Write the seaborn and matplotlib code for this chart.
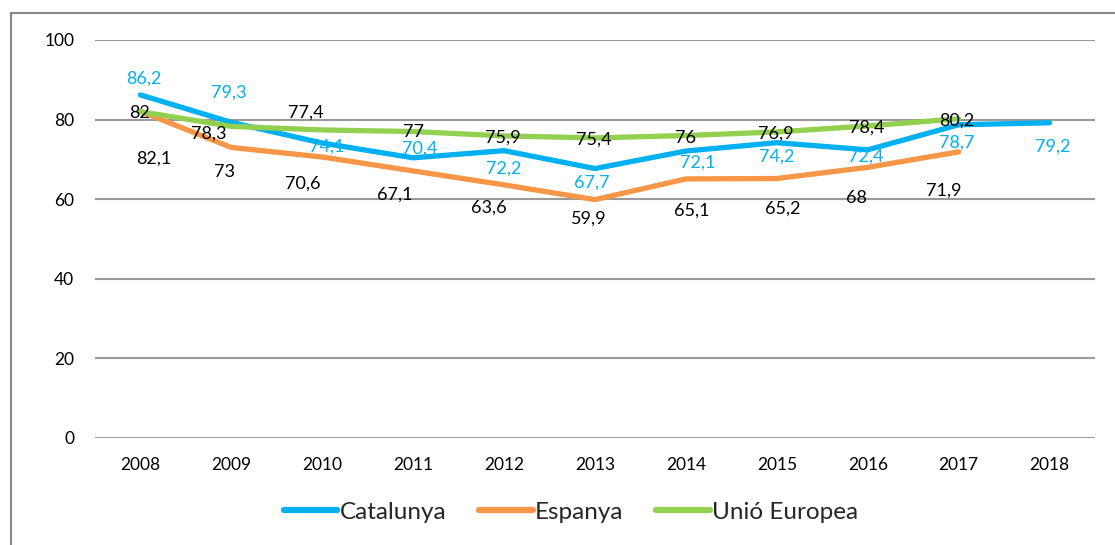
"""
Line chart - Catalunya / Espanya / Unió Europea, 2008-2018
"""
import numpy as np
import pandas as pd
import matplotlib
matplotlib.use('Agg')
import matplotlib.pyplot as plt
from matplotlib.patches import Rectangle
import seaborn as sns

# Data
years = ['2008', '2009', '2010', '2011', '2012', '2013', '2014', '2015', '2016', '2017', '2018']
catalunya = [86.2, 79.3, 74.1, 70.4, 72.2, 67.7, 72.1, 74.2, 72.4, 78.7, 79.2]
espanya = [82.1, 73.0, 70.6, 67.1, 63.6, 59.9, 65.1, 65.2, 68.0, 71.9, np.nan]
unio_europea = [82.0, 78.3, 77.4, 77.0, 75.9, 75.4, 76.0, 76.9, 78.4, 80.2, np.nan]
series_names = ['Catalunya', 'Espanya', 'Unió Europea']
y_ticks = [0, 20, 40, 60, 80, 100]

colors = {'Catalunya': '#00B0F0', 'Espanya': '#F79646', 'Unió Europea': '#92D050'}
label_colors = {'Catalunya': '#00B0F0', 'Espanya': 'black', 'Unió Europea': 'black'}

# label offsets in pixels (dx right, dy down), like the Excel data labels
label_offsets = {
    'Catalunya': [(3, -16), (-3, -30), (4, 4), (7, -9), (0, 18), (-3, 14),
                  (12, 12), (0, 14), (-2, 7), (-2, 18), (3, 24)],
    'Espanya': [(13, 47), (-7, 25), (-20, 27), (-18, 24), (-15, 23), (-6, 19),
                (6, 32), (6, 30), (-11, 31), (-15, 39), (0, 0)],
    'Unió Europea': [(-1, 1), (-23, 7), (-16, -17), (0, 0), (-1, 2), (-1, 2),
                     (0, 2), (-1, 2), (-1, 2), (-2, 2), (0, 0)],
}


def fmt(v):
    s = f'{v:.1f}'
    if s.endswith('.0'):
        s = s[:-2]
    return s.replace('.', ',')


df = pd.DataFrame({'year': years * 3,
                   'value': catalunya + espanya + unio_europea,
                   'serie': np.repeat(series_names, len(years))})
df['x'] = np.tile(np.arange(len(years)), 3)

sns.set_style('white')
plt.rcParams['font.family'] = ['Lato', 'DejaVu Sans']

fig = plt.figure(figsize=(11.15, 5.45), dpi=100)
ax = fig.add_axes([95 / 1115, 1 - 438 / 545, 1000 / 1115, 398 / 545])

sns.lineplot(data=df.dropna(), x='x', y='value', hue='serie', palette=colors,
             hue_order=series_names, linewidth=3.8, ax=ax, legend=True,
             solid_capstyle='round')

for name, vals in zip(series_names, [catalunya, espanya, unio_europea]):
    for i, v in enumerate(vals):
        if np.isnan(v):
            continue
        dx, dy = label_offsets[name][i]
        ax.annotate(fmt(v), (i, v), xytext=(dx, -dy), textcoords='offset pixels',
                    ha='center', va='center', fontsize=13,
                    color=label_colors[name], zorder=5)

ax.set_xlim(-0.5, len(years) - 0.5)
ax.set_ylim(0, 100)
ax.set_yticks(y_ticks)
ax.set_xticks(range(len(years)))
ax.set_xticklabels(years)
ax.tick_params(axis='both', length=0, labelsize=12.5, colors='black')
ax.tick_params(axis='x', pad=14)
ax.tick_params(axis='y', pad=15)
ax.grid(axis='y', color='#9A9A9A', linewidth=1.5)
ax.set_axisbelow(True)
for sp in ax.spines.values():
    sp.set_visible(False)
ax.set_xlabel('')
ax.set_ylabel('')

handles, labels = ax.get_legend_handles_labels()
for h in handles:
    h.set_linewidth(4.5)
    h.set_solid_capstyle('round')
ax.legend(handles, labels, loc='center', bbox_to_anchor=(571 / 1115, 1 - 512 / 545),
          bbox_transform=fig.transFigure, ncol=3, frameon=False, fontsize=17.5,
          handlelength=2.2, handletextpad=0.1, columnspacing=1.35)

# chart border (cropped at the right and bottom)
fig.patches.append(Rectangle((11 / 1115, -0.1), 1.2, 1 - 13 / 545 + 0.1,
                             transform=fig.transFigure, fill=False,
                             edgecolor='#868686', linewidth=1.5))

fig.savefig('out.png', dpi=100, facecolor='white')
